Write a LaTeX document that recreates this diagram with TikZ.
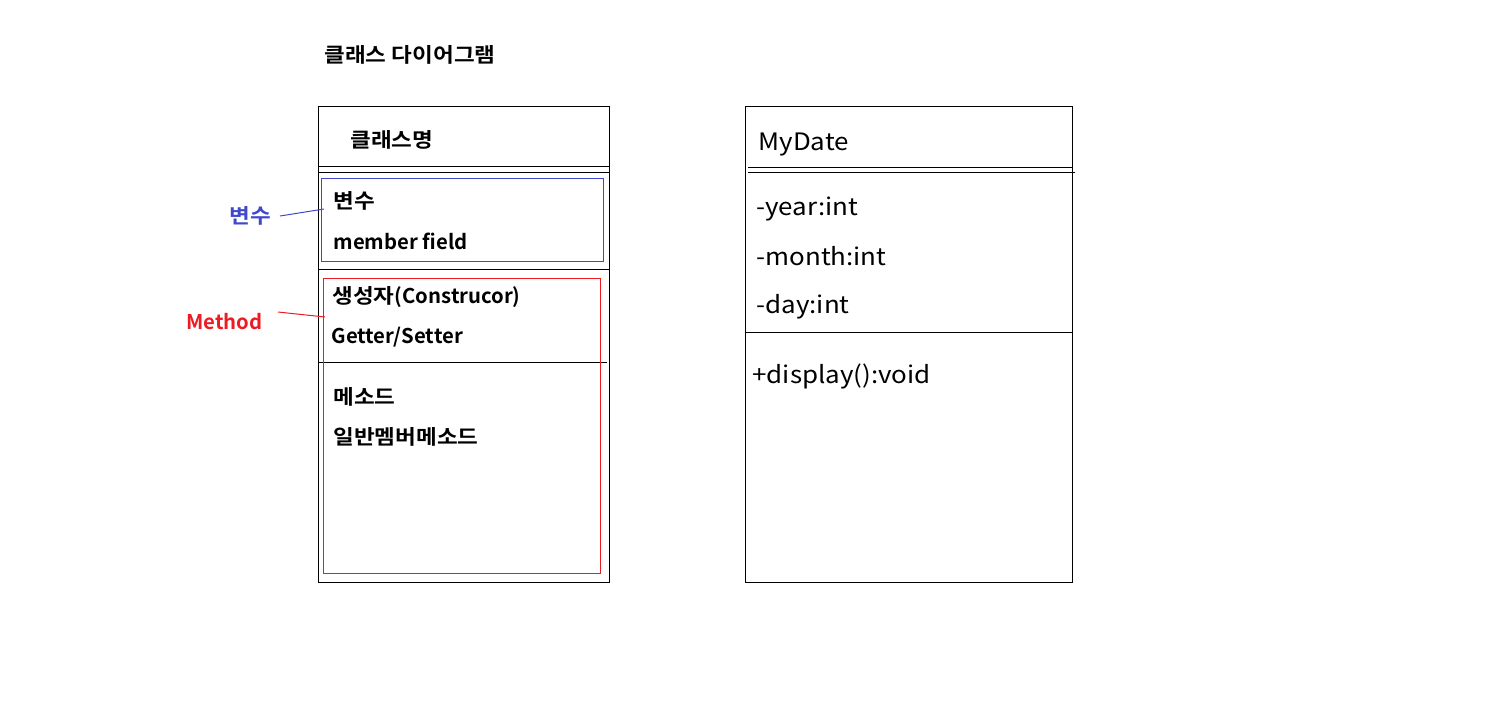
\documentclass[tikz,border=0pt]{standalone}
\usepackage{fontspec}
\setmainfont{Noto Sans CJK KR}
\newfontfamily\krbold{Noto Sans CJK KR Bold}
\newfontfamily\krwide[FakeStretch=1.11]{Noto Sans CJK KR Bold}
\newfontfamily\krreg[FakeStretch=1.08]{Noto Sans CJK KR}
\definecolor{pblue}{RGB}{63,72,204}
\definecolor{pred}{RGB}{237,28,36}
\begin{document}
\begin{tikzpicture}[x=1pt,y=-1pt,line width=1pt,
  bt/.style={anchor=base west,inner sep=0pt,font=\krbold\fontsize{20.3}{24}\selectfont},
  ht/.style={anchor=base west,inner sep=0pt,font=\krwide\fontsize{20.3}{24}\selectfont},
  rt/.style={anchor=base west,inner sep=0pt,font=\krreg\fontsize{24}{28}\selectfont}]
\useasboundingbox (0,0) rectangle (1496,712);
% left class box
\node[draw,minimum width=291pt,minimum height=476pt,anchor=north west,inner sep=0pt] (lbox) at (318,106) {};
\draw (318,166) -- (609,166);
\draw (318,172) -- (609,172);
\draw (318,269) -- (609,269);
\draw (318,362) -- (607,362);
\node[draw=pblue,minimum width=282pt,minimum height=83pt,anchor=north west,inner sep=0pt] (vbox) at (321,178) {};
\node[draw=pred,minimum width=277pt,minimum height=295pt,anchor=north west,inner sep=0pt] (mbox) at (323,278) {};
\node[ht] (title) at (324,62) {클래스 다이어그램};
\node[ht] (cname) at (350,147) {클래스명};
\node[ht] (var) at (333,208) {변수};
\node[bt] (mf) at (333,249) {member field};
\node[bt] (ctor) at (332,303) {{\krwide 생성자}(Construcor)};
\node[bt] (gs) at (331,343) {Getter/Setter};
\node[ht] (meth) at (333,404) {메소드};
\node[ht] (gen) at (333,444) {일반멤버메소드};
% side labels
\node[ht,text=pblue] (lvar) at (229,223) {변수};
\node[bt,text=pred] (lmeth) at (186,329) {Method};
\coordinate (vs) at (280,216);
\coordinate (ve) at (324,209);
\coordinate (ms) at (278,312);
\coordinate (me) at (325,317);
\draw[pblue] (vs) -- (ve);
\draw[pred] (ms) -- (me);
% right class box
\node[draw,minimum width=327pt,minimum height=476pt,anchor=north west,inner sep=0pt] (rbox) at (745,106) {};
\draw (748,167) -- (1072,167);
\draw (748,172) -- (1075,172);
\draw (745,332) -- (1072,332);
\node[rt] (cls) at (758,150) {MyDate};
\node[rt] (yr) at (756,215) {-year:int};
\node[rt] (mo) at (756,265) {-month:int};
\node[rt] (dy) at (756,313) {-day:int};
\node[rt] (disp) at (752,383) {+display():void};
\end{tikzpicture}
\end{document}
